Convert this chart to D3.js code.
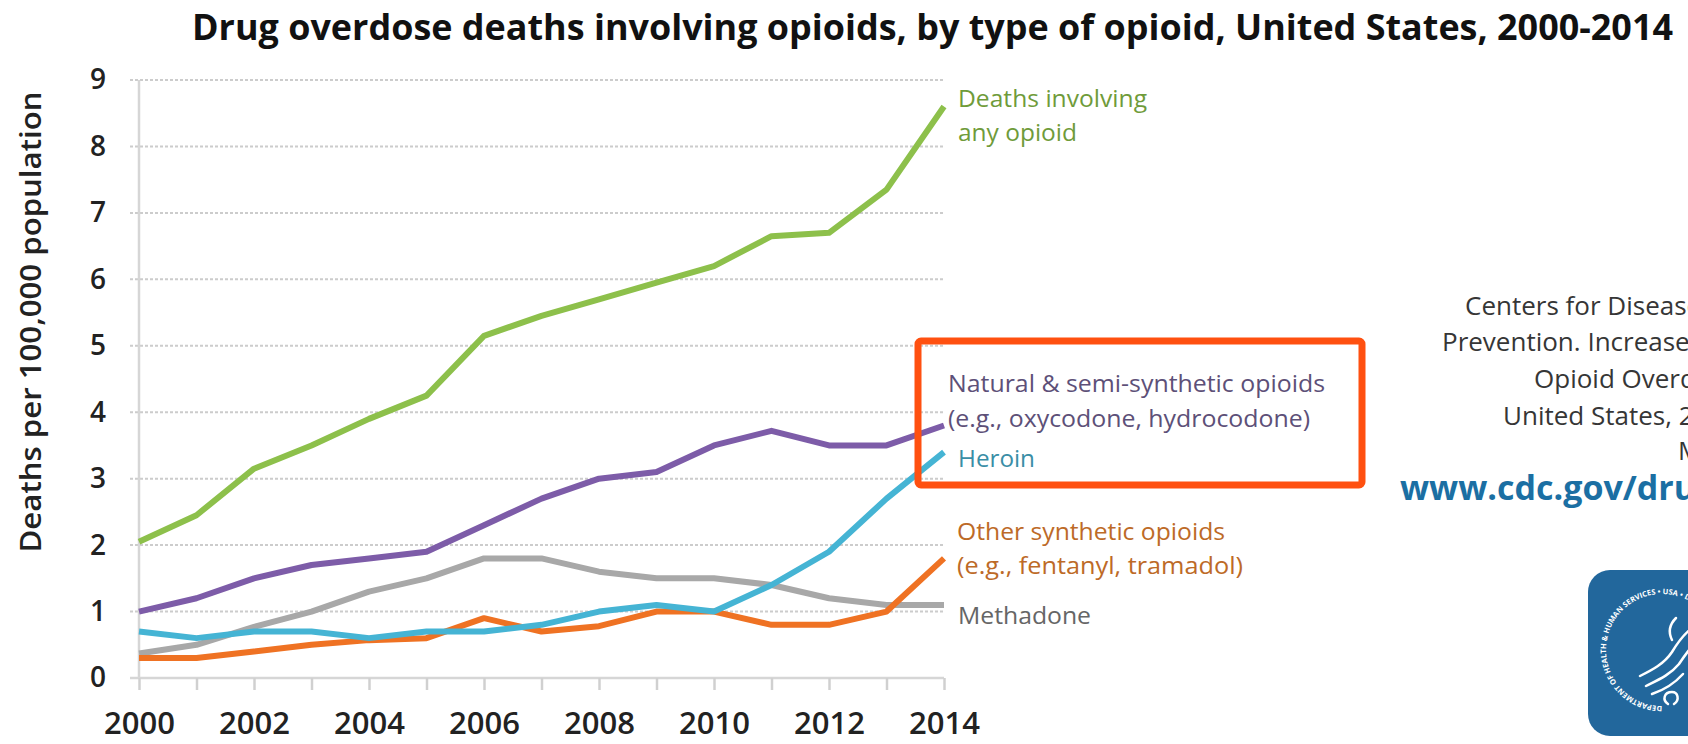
<!DOCTYPE html>
<html><head><meta charset="utf-8">
<script src="https://cdn.jsdelivr.net/npm/d3@7"></script>
<style>
html,body{margin:0;padding:0;background:#fff;overflow:hidden}
svg{display:block;font-family:'Open Sans',sans-serif}
</style>
</head><body>
<svg id="chart" width="1688" height="744"></svg>
<script>
// ---------------- data ----------------
const years = [2000,2001,2002,2003,2004,2005,2006,2007,2008,2009,2010,2011,2012,2013,2014];
const anyOpioid      = [2.05,2.45,3.15,3.5,3.9,4.25,5.15,5.45,5.7,5.95,6.2,6.65,6.7,7.35,8.6];
const naturalSemi    = [1.0,1.2,1.5,1.7,1.8,1.9,2.3,2.7,3.0,3.1,3.5,3.72,3.5,3.5,3.8];
const heroin         = [0.7,0.6,0.7,0.7,0.6,0.7,0.7,0.8,1.0,1.1,1.0,1.4,1.9,2.7,3.4];
const methadone      = [0.37,0.5,0.77,1.0,1.3,1.5,1.8,1.8,1.6,1.5,1.5,1.4,1.2,1.1,1.1];
const otherSynthetic = [0.3,0.3,0.4,0.5,0.57,0.6,0.9,0.7,0.78,1.0,1.0,0.8,0.8,1.0,1.8];
const yTickValues = [0,1,2,3,4,5,6,7,8,9];
const xTickLabels = ["2000","2002","2004","2006","2008","2010","2012","2014"];

const titleText = "Drug overdose deaths involving opioids, by type of opioid, United States, 2000-2014";
const yAxisTitle = "Deaths per 100,000 population";
const labelAny = ["Deaths involving", "any opioid"];
const labelNatural = ["Natural & semi-synthetic opioids", "(e.g., oxycodone, hydrocodone)"];
const labelHeroin = ["Heroin"];
const labelOther = ["Other synthetic opioids", "(e.g., fentanyl, tramadol)"];
const labelMethadone = ["Methadone"];
const citationLines = ["Centers for Disease Control and", "Prevention. Increases in Drug and", "Opioid Overdose Deaths \u2014", "United States, 2000\u20132014.", "MMWR 2015;64:1378\u201382."];
const citationUrl = "www.cdc.gov/drugoverdose";

// ---------------- layout ----------------
const svg = d3.select("#chart");
const x = d3.scaleLinear().domain([2000, 2014]).range([139, 944]);
const y = d3.scaleLinear().domain([0, 9]).range([678, 80]);

// title
svg.append("text")
  .attr("x", 192).attr("y", 40)
  .attr("font-size", 35).attr("font-weight", 700).attr("fill", "#111")
  .attr("textLength", 1481).attr("lengthAdjust", "spacingAndGlyphs")
  .text(titleText);

// y-axis title
svg.append("text")
  .attr("transform", "translate(41,322) rotate(-90)")
  .attr("text-anchor", "middle")
  .attr("font-size", 29).attr("font-weight", 600).attr("fill", "#222")
  .attr("textLength", 461).attr("lengthAdjust", "spacingAndGlyphs")
  .text(yAxisTitle);

// gridlines (dotted)
svg.append("g").selectAll("line")
  .data(yTickValues.filter(v => v > 0))
  .join("line")
  .attr("x1", 130).attr("x2", 945)
  .attr("y1", d => y(d)).attr("y2", d => y(d))
  .attr("stroke", "#cccccc").attr("stroke-width", 2)
  .attr("stroke-dasharray", "3,2");

// y axis line
svg.append("line")
  .attr("x1", x(2000)).attr("x2", x(2000))
  .attr("y1", y(9)).attr("y2", y(0))
  .attr("stroke", "#d6d6d6").attr("stroke-width", 2.5);

// y tick labels via axis
const yAxis = svg.append("g")
  .attr("transform", "translate(110,0)")
  .call(d3.axisLeft(y).tickValues(yTickValues).tickSize(0).tickPadding(4).tickFormat(d3.format("d")));
yAxis.select(".domain").remove();
yAxis.selectAll("text").attr("font-size", 28).attr("font-weight", 600).attr("fill", "#222")
  .attr("font-family", "'Open Sans',sans-serif");

// x axis
const xAxis = svg.append("g")
  .attr("transform", `translate(0,${y(0)})`)
  .call(d3.axisBottom(x).tickValues(years).tickSize(12).tickPadding(22)
        .tickFormat(d => xTickLabels.includes(String(d)) ? String(d) : ""));
xAxis.select(".domain").attr("d", `M130,0H${x(2014)}`).attr("stroke", "#d6d6d6").attr("stroke-width", 2.5);
xAxis.selectAll(".tick line").attr("stroke", "#d0d0d0").attr("stroke-width", 2.5);
xAxis.selectAll("text").attr("font-size", 31).attr("font-weight", 600).attr("fill", "#222")
  .attr("font-family", "'Open Sans',sans-serif");

// lines
const line = d3.line().x((d, i) => x(years[i])).y(d => y(d));
const series = [
  {values: methadone, color: "#a8a8a8"},
  {values: otherSynthetic, color: "#ef7223"},
  {values: heroin, color: "#45b4d4"},
  {values: naturalSemi, color: "#7d5ca8"},
  {values: anyOpioid, color: "#8dc04b"}
];
svg.append("g").selectAll("path")
  .data(series).join("path")
  .attr("d", d => line(d.values))
  .attr("fill", "none")
  .attr("stroke", d => d.color)
  .attr("stroke-width", 6)
  .attr("stroke-linejoin", "round");

// highlight box
svg.append("rect")
  .attr("x", 918).attr("y", 341).attr("width", 444).attr("height", 144)
  .attr("rx", 3)
  .attr("fill", "none").attr("stroke", "#ff5010").attr("stroke-width", 7);

// series labels
function addLabel(lines, x0, yCenters, color, widths) {
  lines.forEach((t, i) => {
    svg.append("text")
      .attr("x", x0).attr("y", yCenters[i])
      .attr("dominant-baseline", "central")
      .attr("font-size", 24).attr("fill", color)
      .attr("textLength", widths[i]).attr("lengthAdjust", "spacingAndGlyphs")
      .text(t);
  });
}
addLabel(labelAny, 958, [97, 131], "#6f9b3a", [189, 119]);
addLabel(labelNatural, 948, [382, 417], "#5d5078", [377, 362]);
addLabel(labelHeroin, 958, [457], "#3a8ea6", [77]);
addLabel(labelOther, 957, [530, 564], "#bd6a27", [268, 286]);
addLabel(labelMethadone, 958, [614], "#666666", [133]);

// citation (centered block, cropped by the page edge as in the source)
const citeStarts = [1465, 1442, 1534, 1503, 1678];
const citeY = [305, 341, 378, 415, 450];
citationLines.forEach((t, i) => {
  svg.append("text")
    .attr("x", citeStarts[i]).attr("y", citeY[i])
    .attr("dominant-baseline", "central")
    .attr("font-size", 26).attr("fill", "#363636")
    .text(t);
});
svg.append("text")
  .attr("x", 1400).attr("y", 487)
  .attr("dominant-baseline", "central")
  .attr("font-size", 34).attr("font-weight", 700).attr("fill", "#1b6fa3")
  .text(citationUrl);

// HHS logo (approximation)
const logo = svg.append("g");
logo.append("rect").attr("x", 1588).attr("y", 570).attr("width", 140).attr("height", 166)
  .attr("rx", 22).attr("fill", "#22679c");
logo.append("path").attr("id", "ring")
  .attr("d", "M1662,706 A56,56 0 1,1 1662.1,706")
  .attr("fill", "none");
logo.append("text").attr("font-size", 7.5).attr("fill", "#fff").attr("font-weight", 700)
  .append("textPath").attr("href", "#ring")
  .text("DEPARTMENT OF HEALTH & HUMAN SERVICES \u2022 USA \u2022 DEPARTMENT OF HEALTH");
const eagle = [
  "M1640,676 C1652,670 1664,664 1672,652 C1678,642 1684,634 1692,628",
  "M1646,686 C1658,680 1670,675 1679,664 C1685,655 1690,648 1696,642",
  "M1652,694 C1664,690 1674,684 1683,674",
  "M1668,704 C1662,700 1664,692 1672,692 C1678,692 1680,700 1674,704",
  "M1676,618 C1670,624 1668,632 1672,640"
];
logo.selectAll("path.e").data(eagle).join("path").attr("class", "e")
  .attr("d", d => d).attr("fill", "none").attr("stroke", "#fff").attr("stroke-width", 2.5)
  .attr("stroke-linecap", "round");
</script>
</body></html>
